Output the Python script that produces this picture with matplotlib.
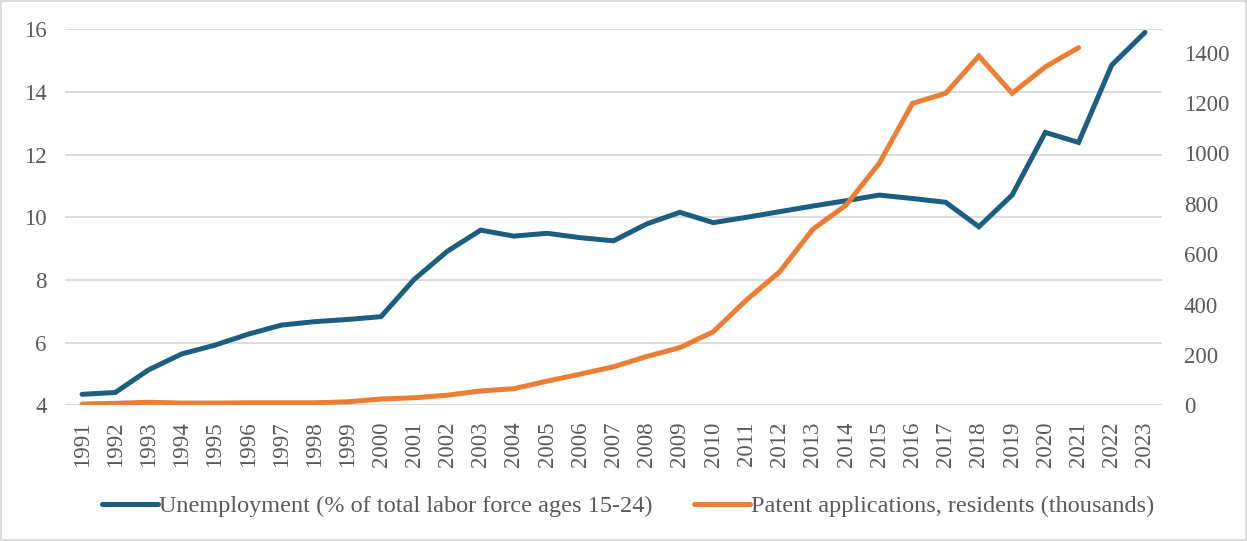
import matplotlib
matplotlib.use("Agg")
import matplotlib.pyplot as plt
from matplotlib.patches import Rectangle

plt.rcParams['font.family'] = ['Liberation Serif', 'DejaVu Serif']

years = list(range(1991, 2024))
# youth unemployment, % of total labor force ages 15-24
unemployment = [4.35, 4.41, 5.13, 5.64, 5.92, 6.27, 6.56, 6.67, 6.74, 6.83,
                8.02, 8.92, 9.59, 9.40, 9.49, 9.35, 9.25, 9.79, 10.16, 9.83,
                10.00, 10.18, 10.36, 10.53, 10.71, 10.60, 10.48, 9.70, 10.71, 12.71,
                12.39, 14.86, 15.90]
# resident patent applications, thousands (no data after 2021)
patent_years = list(range(1991, 2022))
patents = [5, 8, 12, 9, 9, 10, 10, 10, 14, 25,
           30, 40, 57, 66, 96, 124, 153, 194, 229, 292,
           418, 530, 699, 795, 961, 1199, 1239, 1387, 1239, 1344,
           1420]

label_unemp = "Unemployment (% of total labor force ages 15-24)"
label_pat = "Patent applications, residents (thousands)"

blue = "#1B5E80"
orange = "#ED7D31"
grey_txt = "#595959"
grid_col = "#D9D9D9"

fig = plt.figure(figsize=(12.47, 5.41), dpi=100)
ax = fig.add_axes([0.0525, 0.2508, 0.879, 0.695])
ax2 = ax.twinx()

l1, = ax.plot(years, unemployment, color=blue, lw=3.6, solid_capstyle='round',
              solid_joinstyle='miter', label=label_unemp)
l2, = ax2.plot(patent_years, patents, color=orange, lw=3.6, solid_capstyle='round',
               solid_joinstyle='miter', label=label_pat)

ax.set_xlim(1990.5, 2023.5)
ax.set_ylim(4, 16)
ax.set_yticks(range(4, 17, 2))
ax2.set_ylim(0, 1493)
ax2.set_yticks(range(0, 1401, 200))
ax.set_xticks(years)
ax.set_xticklabels([str(y) for y in years], rotation=90)

ax.grid(axis='y', color=grid_col, lw=1.3)
ax.set_axisbelow(True)
for a in (ax, ax2):
    for s in a.spines.values():
        s.set_visible(False)

ax.tick_params(axis='y', length=0, pad=13.5, labelsize=16.5, labelcolor=grey_txt)
ax.tick_params(axis='x', length=0, pad=11.5, labelsize=16.5, labelcolor=grey_txt)
ax2.tick_params(axis='y', length=0, pad=16, labelsize=16.5, labelcolor=grey_txt)

fig.legend(handles=[l1, l2], loc='center', bbox_to_anchor=(0.504, 0.064),
           ncol=2, frameon=False, fontsize=17.5, handlelength=2.3,
           handletextpad=0.05, columnspacing=1.7, labelcolor=grey_txt)

fig.patches.append(Rectangle((0.001, 0.001), 0.998, 0.997, transform=fig.transFigure,
                             fill=False, edgecolor=grid_col, lw=1.3))

fig.savefig("out.png", dpi=100)
